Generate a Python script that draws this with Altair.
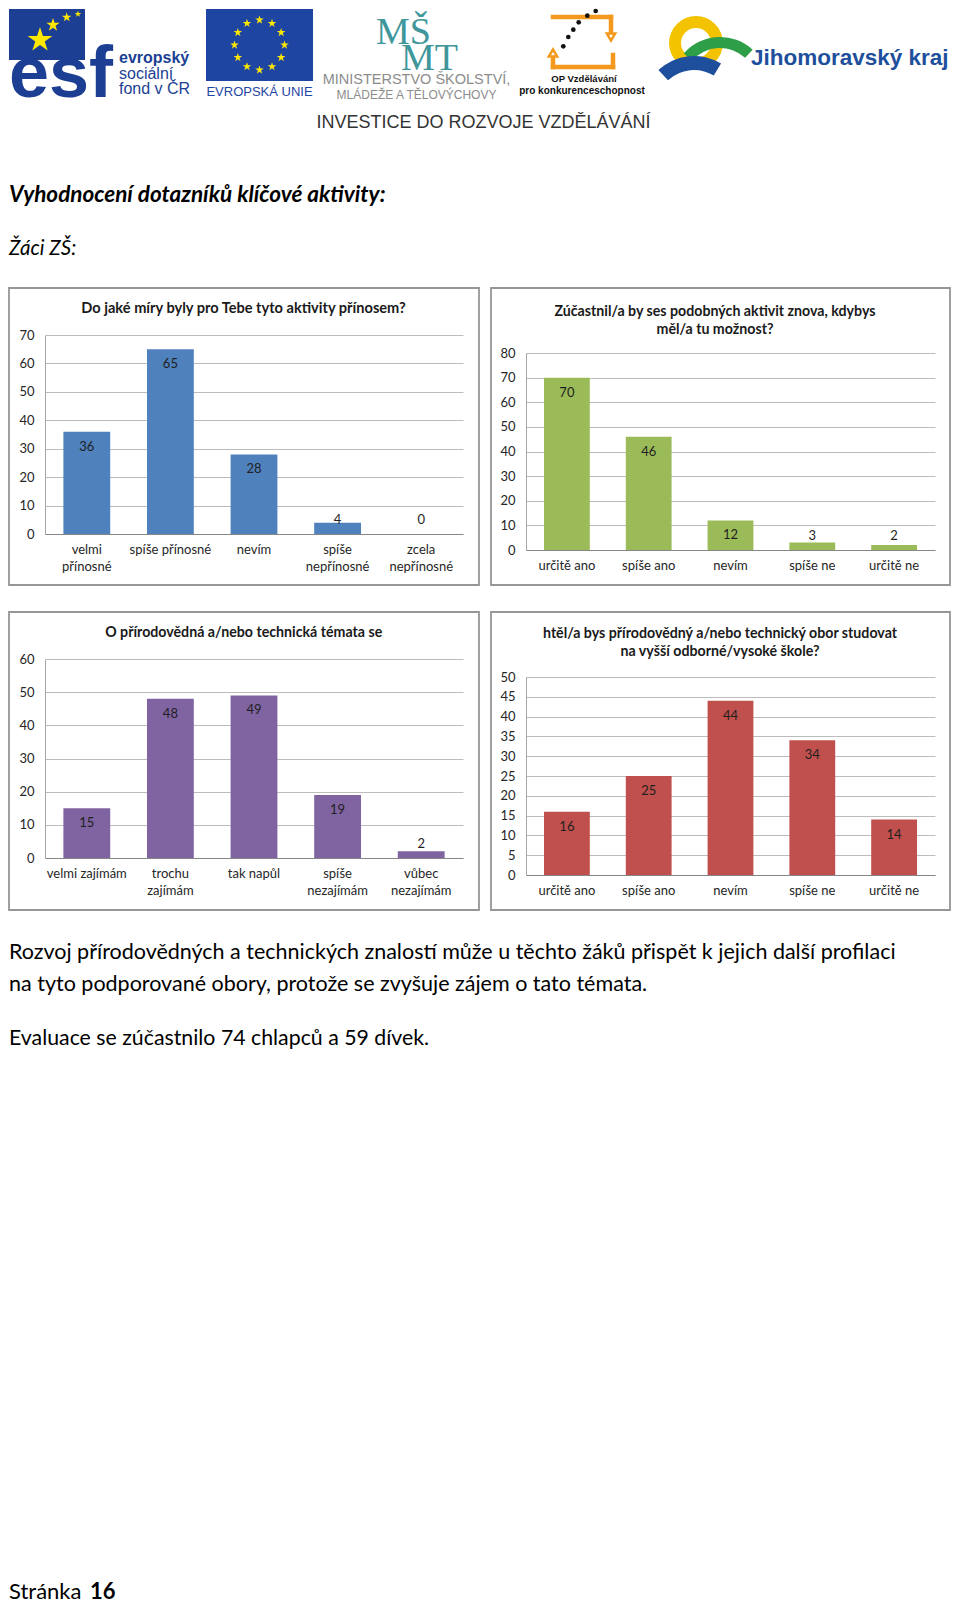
import math
import altair as alt
import pandas as pd

FONT = "Lato"
SANS = "Liberation Sans"

# ---------------- data ----------------
q1_title = ["Do jaké míry byly pro Tebe tyto aktivity přínosem?"]
q1_cats = ["velmi\npřínosné", "spíše přínosné", "nevím", "spíše\nnepřínosné", "zcela\nnepřínosné"]
q1_vals = [36, 65, 28, 4, 0]
q1_ticks = [0, 10, 20, 30, 40, 50, 60, 70]

q2_title = ["Zúčastnil/a by ses podobných aktivit znova, kdybys", "měl/a tu možnost?"]
q2_cats = ["určitě ano", "spíše ano", "nevím", "spíše ne", "určitě ne"]
q2_vals = [70, 46, 12, 3, 2]
q2_ticks = [0, 10, 20, 30, 40, 50, 60, 70, 80]

q3_title = ["O přírodovědná a/nebo technická témata se"]
q3_cats = ["velmi zajímám", "trochu\nzajímám", "tak napůl", "spíše\nnezajímám", "vůbec\nnezajímám"]
q3_vals = [15, 48, 49, 19, 2]
q3_ticks = [0, 10, 20, 30, 40, 50, 60]

q4_title = ["htěl/a bys přírodovědný a/nebo technický obor studovat", "na vyšší odborné/vysoké škole?"]
q4_cats = ["určitě ano", "spíše ano", "nevím", "spíše ne", "určitě ne"]
q4_vals = [16, 25, 44, 34, 14]
q4_ticks = [0, 5, 10, 15, 20, 25, 30, 35, 40, 45, 50]

heading = "Vyhodnocení dotazníků klíčové aktivity:"
subheading = "Žáci ZŠ:"
para_line1 = "Rozvoj přírodovědných a technických znalostí může u těchto žáků přispět k jejich další profilaci"
para_line2 = "na tyto podporované obory, protože se zvyšuje zájem o tato témata."
para_eval = "Evaluace se zúčastnilo 74 chlapců a 59 dívek."
page_word = "Stránka"
page_num = "16"

one = pd.DataFrame({"k": [0]})

STAR = ("M0,-1L0.2245,-0.309L0.9511,-0.309L0.3633,0.118L0.5878,0.809L0,0.382"
        "L-0.5878,0.809L-0.3633,0.118L-0.9511,-0.309L-0.2245,-0.309Z")


def txt(s, x, y, size, font=FONT, weight="normal", style="normal", color="#000000",
        align="left", baseline="alphabetic"):
    return alt.Chart(one).mark_text(
        text=s, font=font, fontSize=size, fontWeight=weight, fontStyle=style,
        color=color, align=align, baseline=baseline
    ).encode(x=alt.value(x), y=alt.value(y))


def rect(x1, y1, x2, y2, color):
    return alt.Chart(one).mark_rect(color=color).encode(
        x=alt.value(x1), y=alt.value(y1), x2=alt.value(x2), y2=alt.value(y2))


def line(x1, y1, x2, y2, color, w):
    return alt.Chart(one).mark_rule(color=color, strokeWidth=w, strokeCap="square").encode(
        x=alt.value(x1), y=alt.value(y1), x2=alt.value(x2), y2=alt.value(y2))


def star(x, y, r, color):
    return alt.Chart(one).mark_point(
        shape=STAR, filled=True, fill=color, strokeWidth=0, opacity=1, size=(2 * r) ** 2
    ).encode(x=alt.value(x), y=alt.value(y))


def dot(x, y, size, color):
    return alt.Chart(one).mark_circle(color=color, opacity=1, size=size).encode(
        x=alt.value(x), y=alt.value(y))


def tri(x, y, shape, color):
    return alt.Chart(one).mark_point(
        shape=shape, filled=False, stroke=color, strokeWidth=2.5, size=70, opacity=1
    ).encode(x=alt.value(x), y=alt.value(y))


def arc(cx, cy, r_out, r_in, t0, t1, color):
    return alt.Chart(one).mark_arc(
        color=color, radius=r_out, radius2=r_in, theta=t0, theta2=t1
    ).encode(x=alt.value(cx), y=alt.value(cy))


# ---------------- header (logos + headings) ----------------
ESF_BLUE = "#1c3f94"
EU_BLUE = "#1f45a3"
YELLOW = "#ffe800"
TEAL = "#40979b"
ORANGE = "#f39a1e"
JMK_BLUE = "#1d4f9c"

hdr = [
    rect(-36, 1, 40, 52, ESF_BLUE),
    txt("esf", -36, 89, 72, font=SANS, weight="bold", color=ESF_BLUE),
    star(-5, 32, 13, YELLOW), star(8, 17, 7, YELLOW), star(21.7, 9.3, 5, YELLOW), star(33, 6, 3.5, YELLOW),
    txt("evropský", 74, 50, 16, font=SANS, weight="bold", color=ESF_BLUE, baseline="middle"),
    txt("sociální", 74, 66, 16, font=SANS, color=ESF_BLUE, baseline="middle"),
    txt("fond v ČR", 74, 81, 16, font=SANS, color=ESF_BLUE, baseline="middle"),
    rect(161, 1, 268, 73, EU_BLUE),
]
for i in range(12):
    ang = i * math.pi / 6
    hdr.append(star(214.5 + 25 * math.sin(ang), 37 - 25 * math.cos(ang), 4.5, YELLOW))
hdr += [
    txt("EVROPSKÁ UNIE", 214.5, 84, 13, font=SANS, color=EU_BLUE, align="center", baseline="middle"),
    txt("MŠ", 331, 36, 38, font="Liberation Serif", color=TEAL),
    txt("MT", 356, 62, 38, font="Liberation Serif", color=TEAL),
    txt("MINISTERSTVO ŠKOLSTVÍ,", 371.5, 72, 14.5, font=SANS, color="#8c8c8c", align="center", baseline="middle"),
    txt("MLÁDEŽE A TĚLOVÝCHOVY", 371.5, 86.5, 12, font=SANS, color="#8c8c8c", align="center", baseline="middle"),
    line(508, 9, 566, 9, ORANGE, 4.5),
    line(566, 9, 566, 24, ORANGE, 4.5),
    tri(566, 29, "triangle-down", ORANGE),
    line(508, 59, 568, 59, ORANGE, 4.5),
    line(568, 59, 568, 47, ORANGE, 4.5),
    line(508, 59, 508, 50, ORANGE, 4.5),
    tri(508, 45, "triangle-up", ORANGE),
    dot(518.3, 38.3, 22, "#111111"), dot(523.3, 29, 22, "#111111"), dot(528.3, 21.7, 22, "#111111"),
    dot(533.7, 14.3, 22, "#111111"), dot(542.3, 7.7, 22, "#111111"), dot(550.7, 3.0, 22, "#111111"),
    txt("OP Vzdělávání", 539, 71, 9.5, font=SANS, weight="bold", color="#111111", align="center", baseline="middle"),
    txt("pro konkurenceschopnost", 537, 83, 10, font=SANS, weight="bold", color="#111111", align="center", baseline="middle"),
    arc(651, 35, 27, 15, 0, 6.2832, "#f4c300"),
    arc(675, 77, 48, 37, 5.43, 7.03, "#2e9e48"),
    arc(649, 100, 52, 38, 5.53, 6.83, JMK_BLUE),
    txt("Jihomoravský kraj", 706, 50, 22.5, font=SANS, weight="bold", color=JMK_BLUE, baseline="middle"),
    txt("INVESTICE DO ROZVOJE VZDĚLÁVÁNÍ", 438.5, 115, 18, font=SANS, color="#333333", align="center", baseline="middle"),
    txt(heading, -36, 194, 22.5, weight="bold", style="italic"),
    txt(subheading, -36, 247, 20.5, style="italic"),
]
header = alt.layer(*hdr).properties(width=418, height=218)

# empty grid cell (keeps the header alone on the first row)
blank = alt.Chart(one).mark_point(opacity=0, size=1).encode(
    x=alt.value(5), y=alt.value(100)).properties(width=1, height=1)


# ---------------- bar charts ----------------
def bar_chart(cats, vals, ticks, title_lines, color, w, h, top, frame_box, tx, ty0, tsize=14.2):
    ymax = ticks[-1]
    ph = h - top
    df = pd.DataFrame({"cat": cats, "val": vals})
    xenc = alt.X(
        "cat:N", sort=cats,
        scale=alt.Scale(paddingInner=0.44, paddingOuter=0.22),
        axis=alt.Axis(title=None, labelAngle=0, ticks=False, domainColor="#868686", domainWidth=1,
                      labelExpr="split(datum.label, '\\n')", labelPadding=9, labelFontSize=13,
                      labelFont=FONT, labelColor="#262626", labelLineHeight=17, grid=False,
                      labelOverlap=False),
    )
    yscale = alt.Scale(domain=[0, ymax], nice=False, range=[h, top])
    yaxis = alt.Axis(title=None, values=ticks, grid=True, gridColor="#bcbcbc", gridWidth=1,
                     domainColor="#a6a6a6", ticks=False, labelPadding=11, labelFontSize=13,
                     labelFont=FONT, labelColor="#262626")
    bars = alt.Chart(df).mark_bar(color=color).encode(
        x=xenc, y=alt.Y("val:Q", scale=yscale, axis=yaxis))
    a = 15 * ymax / ph
    b = 14 * ymax / ph
    labels = alt.Chart(df).transform_calculate(
        pos=f"max(datum.val - {a}, {b})"
    ).mark_text(font=FONT, fontSize=13, color="#1f1f1f", baseline="middle").encode(
        x=xenc, y=alt.Y("pos:Q", scale=yscale, axis=yaxis), text="val:Q")
    fx0, fy0, fx1, fy1 = frame_box
    frame = alt.Chart(one).mark_rect(filled=False, stroke="#969696", strokeWidth=1.8).encode(
        x=alt.value(fx0), x2=alt.value(fx1), y=alt.value(fy0), y2=alt.value(fy1))
    titles = [txt(t, tx, ty0 + 18 * i, tsize, weight="bold", color="#1a1a1a", align="center",
                  baseline="middle") for i, t in enumerate(title_lines)]
    return alt.layer(frame, bars, labels, *titles).properties(width=w, height=h)


c1 = bar_chart(q1_cats, q1_vals, q1_ticks, q1_title, "#4f81bd", 418, 199, 0, (-36, -47, 434, 250), 198.5, -26, 14.6)
c2 = bar_chart(q2_cats, q2_vals, q2_ticks, q2_title, "#9bbb59", 409, 215, 18, (-35, -47, 424, 250), 189, -23)
c3 = bar_chart(q3_cats, q3_vals, q3_ticks, q3_title, "#8064a2", 418, 199, 0, (-36, -47, 434, 251), 198.7, -26)
c4 = bar_chart(q4_cats, q4_vals, q4_ticks, q4_title, "#c0504d", 409, 216, 18, (-35, -47, 424, 251), 194, -25)

# ---------------- text below ----------------
foot = alt.layer(
    txt(para_line1, -36, -25, 21.5),
    txt(para_line2, -36, 7, 21.5),
    txt(para_eval, -36, 60.5, 21.3),
    txt(page_word, -36, 615, 22),
    txt(page_num, 45, 615, 22, weight="bold"),
).properties(width=418, height=616)

chart = alt.concat(
    header, blank, c1, c2, c3, c4, foot,
    columns=2, spacing={"row": 109, "column": 63}, bounds="flush", align="each",
).properties(padding=0, background="white").configure_view(strokeWidth=0)

chart.save("out.html", embed_options={"renderer": "svg", "actions": False})
